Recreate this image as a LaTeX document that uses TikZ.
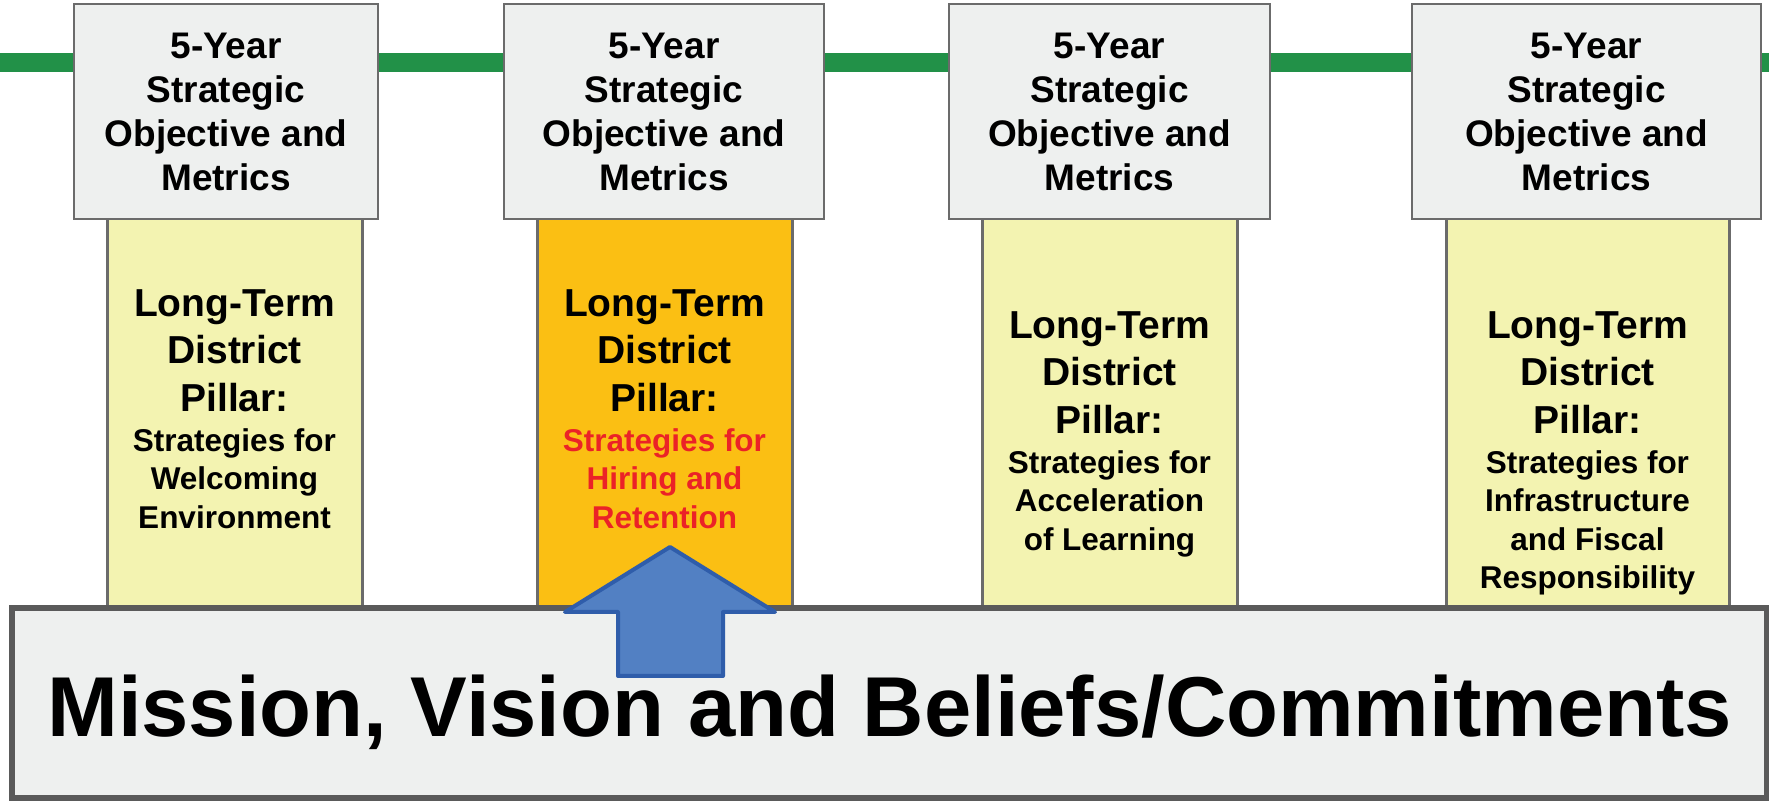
\documentclass[tikz,border=0pt]{standalone}
\usepackage{fontspec}
\setmainfont{Liberation Sans}
\usetikzlibrary{positioning}

\definecolor{railgreen}{HTML}{229148}
\definecolor{boxgray}{HTML}{EEF0EF}
\definecolor{boxedge}{HTML}{6B6B6B}
\definecolor{pillaryellow}{HTML}{F3F3B1}
\definecolor{pillarorange}{HTML}{FBBF13}
\definecolor{focusred}{HTML}{EB2227}
\definecolor{arrowblue}{HTML}{5280C3}
\definecolor{arrowedge}{HTML}{2F5DAA}
\definecolor{baseedge}{HTML}{5A5A5A}

\begin{document}
\begin{tikzpicture}[x=0.5pt, y=-0.5pt,
    rail/.style={railgreen, line width=9.5pt},
    objbox/.style={draw=boxedge, fill=boxgray, line width=1pt, inner sep=0pt,
        align=center, minimum height=107.5pt,
        font=\bfseries\fontsize{18.5}{22}\selectfont},
    pillar/.style={draw=boxedge, fill=pillaryellow, line width=1.5pt,
        inner sep=0pt, minimum height=204pt},
    bigtxt/.style={inner sep=0pt, align=center, anchor=north,
        font=\bfseries\fontsize{19.5}{23.75}\selectfont},
    smalltxt/.style={inner sep=0pt, align=center,
        font=\bfseries\fontsize{15.75}{19.25}\selectfont},
    basebox/.style={draw=baseedge, fill=boxgray, line width=3pt, inner sep=0pt,
        minimum width=877.5pt, minimum height=95pt},
    basetxt/.style={inner sep=0pt, anchor=base,
        font=\bfseries\fontsize{42.5}{50}\selectfont},
    uparrow/.style={draw=arrowedge, fill=arrowblue, line width=2pt, line join=round}]

    \useasboundingbox (0,0) rectangle (1769,801);

    % Timeline
    \coordinate (railL) at (0,62.5);
    \coordinate (railR) at (1769,62.5);
    \draw[rail] (railL) -- (railR);

    % Pillars
    \node[pillar, minimum width=127.5pt] (p1) at (234.5,404) {};
    \node[pillar, minimum width=127.5pt, fill=pillarorange] (p2) at (664.5,404) {};
    \node[pillar, minimum width=127.5pt] (p3) at (1109.5,404) {};
    \node[pillar, minimum width=141.5pt] (p4) at (1587.5,404) {};

    % Pillar texts
    \node[bigtxt] (lt1) at (234.5,289) {Long-Term\\District\\Pillar:};
    \node[smalltxt, below=8pt of lt1] (st1) {Strategies for\\Welcoming\\Environment};
    \node[bigtxt] (lt2) at (664.5,289) {Long-Term\\District\\Pillar:};
    \node[smalltxt, below=8pt of lt2, text=focusred] (st2) {Strategies for\\Hiring and\\Retention};
    \node[bigtxt] (lt3) at (1109.5,311) {Long-Term\\District\\Pillar:};
    \node[smalltxt, below=8pt of lt3] (st3) {Strategies for\\Acceleration\\of Learning};
    \node[bigtxt] (lt4) at (1587.5,311) {Long-Term\\District\\Pillar:};
    \node[smalltxt, below=8pt of lt4] (st4) {Strategies for\\Infrastructure\\and Fiscal\\Responsibility};

    % Objective boxes
    \node[objbox, minimum width=152pt] (obj1) at (226,111.5) {5-Year\\Strategic\\Objective and\\Metrics};
    \node[objbox, minimum width=160pt] (obj2) at (664,111.5) {5-Year\\Strategic\\Objective and\\Metrics};
    \node[objbox, minimum width=160.5pt] (obj3) at (1109.5,111.5) {5-Year\\Strategic\\Objective and\\Metrics};
    \node[objbox, minimum width=174.5pt] (obj4) at (1586.5,111.5) {5-Year\\Strategic\\Objective and\\Metrics};

    % Foundation
    \node[basebox] (base) at (889.5,703) {};
    \node[basetxt] (motto) at (889.5,737) {Mission, Vision and Beliefs/Commitments};

    % Block arrow
    \draw[uparrow] (618,676) -- (618,612) -- (565,612) -- (670,547)
        -- (775,612) -- (723,612) -- (723,676) -- cycle;

\end{tikzpicture}
\end{document}
